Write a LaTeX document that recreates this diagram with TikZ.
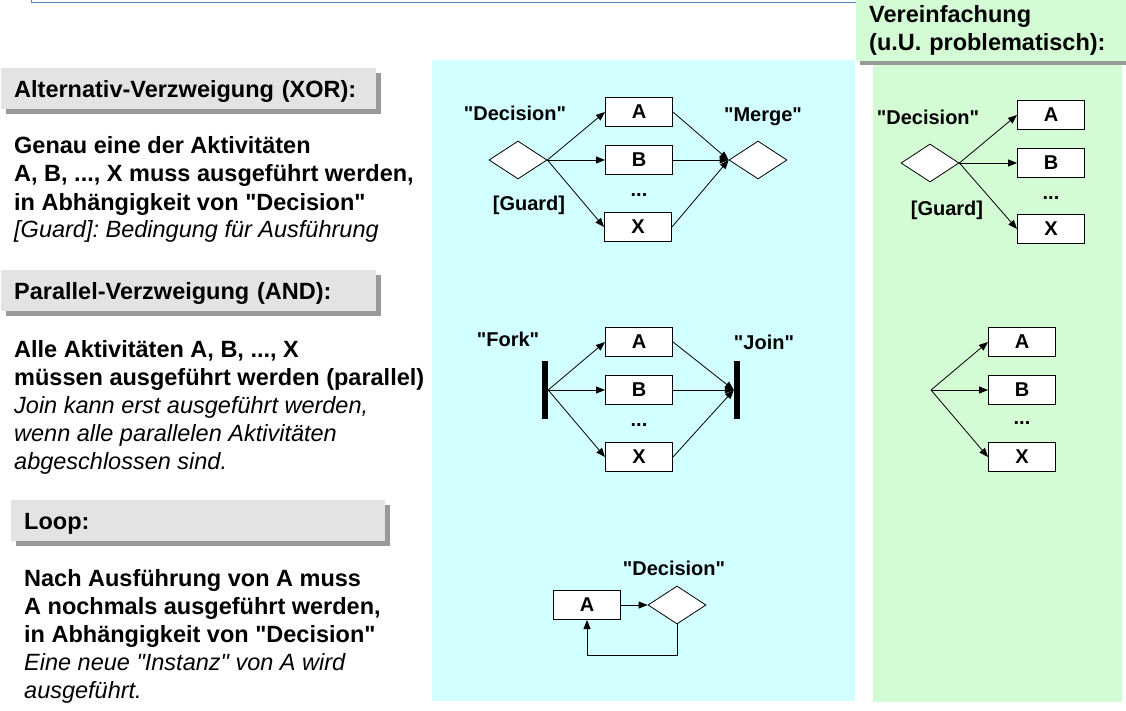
\documentclass[tikz,border=0pt]{standalone}
\usepackage{fontspec}
\setmainfont{Liberation Sans}[Ligatures=TeXOff]
\usepackage{xcolor}
\usepackage{tikz}
\usetikzlibrary{positioning,arrows.meta,shapes.geometric,shadows}
\definecolor{hdrgray}{HTML}{E3E3E3}
\definecolor{shadowgray}{HTML}{999999}
\definecolor{cyanbg}{HTML}{D2FFFF}
\definecolor{greenbg}{HTML}{D4FCD4}
\definecolor{lineblue}{HTML}{4F81BD}
\newcommand{\remark}[1]{{\mdseries\itshape #1}}

\begin{document}
\frenchspacing
\begin{tikzpicture}[x=1pt, y=-1pt, font=\bfseries\fontsize{20}{24}\selectfont,
  act/.style={draw, fill=white, line width=1pt, minimum width=67pt, minimum height=29pt, inner sep=0pt},
  dec/.style={diamond, draw, fill=white, line width=0.8pt, minimum width=58pt, minimum height=38pt, inner sep=0pt},
  bar/.style={fill=black, minimum width=6pt, minimum height=58pt, inner sep=0pt},
  hdr/.style={fill=hdrgray, anchor=north west, minimum height=41pt, text width=349pt, align=left, inner xsep=13pt, font=\bfseries\fontsize{23.5}{28}\selectfont},
  hdrline/.style={text height=21pt, text depth=3pt},
  shd/.style={drop shadow={shadow xshift=5pt, shadow yshift=-5pt, fill=shadowgray, opacity=1}},
  txt/.style={anchor=base west, align=left, inner sep=0pt, font=\bfseries\fontsize{23.5}{28}\selectfont},
  arr/.style={-{Triangle[length=9pt, width=7pt]}, line width=0.8pt}]
\useasboundingbox (0,0) rectangle (1126,711);
\fill[cyanbg] (432,60) rectangle (855,701);
\fill[greenbg] (873,65) rectangle (1122,702);
\draw[lineblue, line width=1pt] (31,0) -- (31,3) -- (856,3);
\node[hdr, fill=greenbg, text width=244pt, minimum height=61pt, drop shadow={shadow xshift=4pt, shadow yshift=-4pt, fill=shadowgray, opacity=1}] (simphdr) at (856,0) {Vereinfachung\\(u.U. problematisch):};
\node[hdr, hdrline, shd] (xorhdr) at (1,68) {Alternativ-Verzweigung (XOR):};
\node[hdr, hdrline, shd] (andhdr) at (1,270) {Parallel-Verzweigung (AND):};
\node[hdr, hdrline, shd, text width=348pt] (loophdr) at (11,500) {Loop:};
\node[txt] (xortxt) at (14,238) {Genau eine der Aktivitäten\\A, B, ..., X muss ausgeführt werden,\\in Abhängigkeit von "Decision"\\\remark{[Guard]: Bedingung für Ausführung}};
\node[txt] (andtxt) at (14,469) {Alle Aktivitäten A, B, ..., X\\müssen ausgeführt werden (parallel)\\\remark{Join kann erst ausgeführt werden,}\\\remark{wenn alle parallelen Aktivitäten}\\\remark{abgeschlossen sind.}};
\node[txt] (looptxt) at (24,698) {Nach Ausführung von A muss\\A nochmals ausgeführt werden,\\in Abhängigkeit von "Decision"\\\remark{Eine neue "Instanz" von A wird}\\\remark{ausgeführt.}};
\node[dec] (xdec) at (518,160) {};
\node[act] (xa) at (639,112) {A};
\node[act] (xb) at (639,160) {B};
\node (xdots) at (639,195) {...};
\node[act] (xx) at (638,227) {X};
\node[dec] (xmerge) at (758,160) {};
\node (xdeclbl) at (515,113) {"Decision"};
\node (xmergelbl) at (763,117) {"Merge"};
\node (xguard) at (529,205) {[Guard]};
\draw[arr] (xdec.east) -- (xa.west); \draw[arr] (xdec.east) -- (xb.west); \draw[arr] (xdec.east) -- (xx.west);
\draw[arr] (xa.east) -- (xmerge.west); \draw[arr] (xb.east) -- (xmerge.west); \draw[arr] (xx.east) -- (xmerge.west);
\node[bar] (fork) at (545,390) {};
\node[act] (pa) at (639,342) {A};
\node[act] (pb) at (639,390) {B};
\node (pdots) at (639,425) {...};
\node[act] (px) at (639,457) {X};
\node[bar] (join) at (737,390) {};
\node (forklbl) at (508,339) {"Fork"};
\node (joinlbl) at (764,342) {"Join"};
\draw[arr] (fork.east) -- (pa.west); \draw[arr] (fork.east) -- (pb.west); \draw[arr] (fork.east) -- (px.west);
\draw[arr] (pa.east) -- (join.west); \draw[arr] (pb.east) -- (join.west); \draw[arr] (px.east) -- (join.west);
\node[act] (la) at (587,605) {A};
\node[dec] (ldec) at (677,605) {};
\node (ldeclbl) at (674,568) {"Decision"};
\draw[arr] (la) -- (ldec);
\draw[arr] (ldec.south) -- ++(0,31) -| (la.south);
\node[dec] (sdec) at (930,163) {};
\node[act] (sa) at (1051,115) {A};
\node[act] (sb) at (1051,163) {B};
\node (sdots) at (1051,198) {...};
\node[act] (sx) at (1051,229) {X};
\node (sdeclbl) at (928,117) {"Decision"};
\node (sguard) at (947,210) {[Guard]};
\draw[arr] (sdec.east) -- (sa.west); \draw[arr] (sdec.east) -- (sb.west); \draw[arr] (sdec.east) -- (sx.west);
\coordinate (tfork) at (931,390);
\node[act] (ta) at (1022,342) {A};
\node[act] (tb) at (1022,390) {B};
\node (tdots) at (1022,423) {...};
\node[act] (tx) at (1022,457) {X};
\draw[arr] (tfork) -- (ta.west); \draw[arr] (tfork) -- (tb.west); \draw[arr] (tfork) -- (tx.west);
\end{tikzpicture}
\end{document}
